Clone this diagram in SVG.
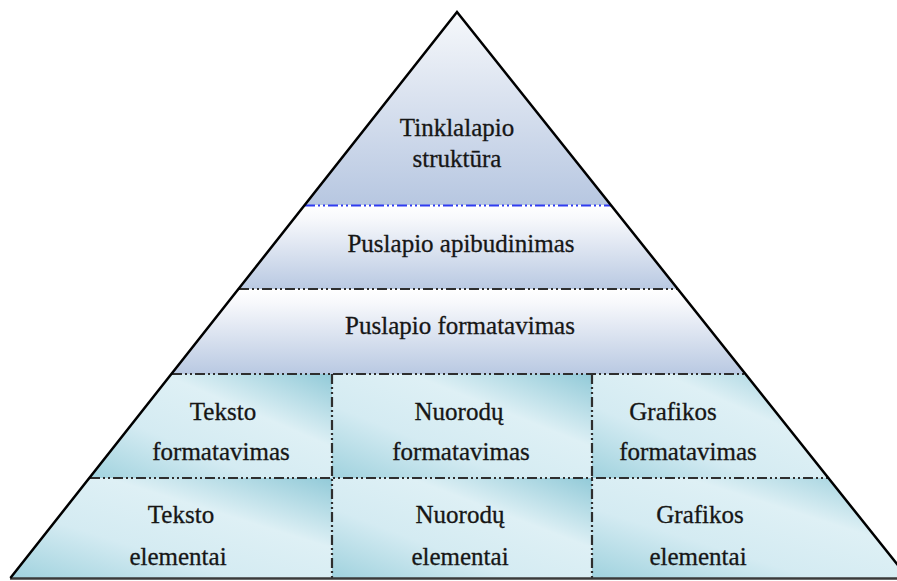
<svg xmlns="http://www.w3.org/2000/svg" width="897" height="581" viewBox="0 0 897 581">
<style>
  text { font-family: "Liberation Serif", "Times New Roman", serif; font-size: 25px; fill: #161616; stroke: #161616; stroke-width: 0.3; text-anchor: middle; }
  .sep { fill: none; stroke: #2e2e2e; stroke-width: 2.2; stroke-dasharray: 10 3 2 3 2 3; }
  .sepblue { fill: none; stroke: #2f3cf0; stroke-width: 2.2; stroke-dasharray: 10 3 2 3 2 3; }
  .outline { fill: none; stroke: #000; stroke-width: 2.5; stroke-linejoin: miter; }
  .base { fill: none; stroke: #3a3a3a; stroke-width: 2.5; }
  .cell { fill: url(#teal); }
</style>
<defs>
  <linearGradient id="topg" x1="0" y1="0" x2="0" y2="1">
    <stop offset="0" stop-color="#f6f8fb"/>
    <stop offset="1" stop-color="#b7c7e1"/>
  </linearGradient>
  <linearGradient id="bandg" x1="0" y1="0" x2="0" y2="1">
    <stop offset="0" stop-color="#ffffff"/>
    <stop offset="0.15" stop-color="#f8f9fc"/>
    <stop offset="1" stop-color="#b9c9e2"/>
  </linearGradient>
  <linearGradient id="teal" x1="1" y1="0" x2="0" y2="1">
    <stop offset="0" stop-color="#92cad8"/>
    <stop offset="0.35" stop-color="#def0f5"/>
    <stop offset="0.65" stop-color="#d4ebf2"/>
    <stop offset="1" stop-color="#a0d2de"/>
  </linearGradient>
</defs>

<g id="layer-top">
  <polygon points="457,12 304.7,205 610.8,205" fill="url(#topg)"/>
  <text x="457" y="136">Tinklalapio</text>
  <text x="457" y="167">struktūra</text>
</g>

<g id="layer-apibudinimas">
  <polygon points="304.7,205 610.8,205 677.8,289 238.4,289" fill="url(#bandg)"/>
  <text x="461" y="252">Puslapio apibudinimas</text>
</g>

<g id="layer-formatavimas">
  <polygon points="238.4,289 677.8,289 745.5,374 171.4,374" fill="url(#bandg)"/>
  <text x="460" y="334">Puslapio formatavimas</text>
</g>

<g id="teksto-formatavimas">
  <polygon class="cell" points="171.4,374 332,374 332,478 89.3,478"/>
  <text x="223" y="420">Teksto</text>
  <text x="221" y="460">formatavimas</text>
</g>

<g id="nuorodu-formatavimas">
  <rect class="cell" x="332" y="374" width="260" height="104"/>
  <text x="459" y="420">Nuorodų</text>
  <text x="461" y="460">formatavimas</text>
</g>

<g id="grafikos-formatavimas">
  <polygon class="cell" points="592,374 745.5,374 828.4,478 592,478"/>
  <text x="673" y="420">Grafikos</text>
  <text x="688" y="460">formatavimas</text>
</g>

<g id="teksto-elementai">
  <polygon class="cell" points="89.3,478 332,478 332,578 10.4,578"/>
  <text x="181" y="523">Teksto</text>
  <text x="178" y="565">elementai</text>
</g>

<g id="nuorodu-elementai">
  <rect class="cell" x="332" y="478" width="260" height="100"/>
  <text x="460" y="523">Nuorodų</text>
  <text x="460" y="565">elementai</text>
</g>

<g id="grafikos-elementai">
  <polygon class="cell" points="592,478 828.4,478 908.1,578 592,578"/>
  <text x="700" y="523">Grafikos</text>
  <text x="698" y="565">elementai</text>
</g>

<g id="connectors">
  <line class="sepblue" x1="305" y1="205.5" x2="611" y2="205.5"/>
  <line class="sep" x1="239" y1="289" x2="677" y2="289"/>
  <line class="sep" x1="172" y1="374" x2="745" y2="374"/>
  <line class="sep" x1="90" y1="478" x2="828" y2="478"/>
  <line class="sep" x1="332" y1="374" x2="332" y2="578"/>
  <line class="sep" x1="592" y1="374" x2="592" y2="578"/>
  <line class="base" x1="10" y1="578.5" x2="897" y2="578.5"/>
  <polyline class="outline" points="10.4,578 457,12 908.1,578"/>
</g>
</svg>
